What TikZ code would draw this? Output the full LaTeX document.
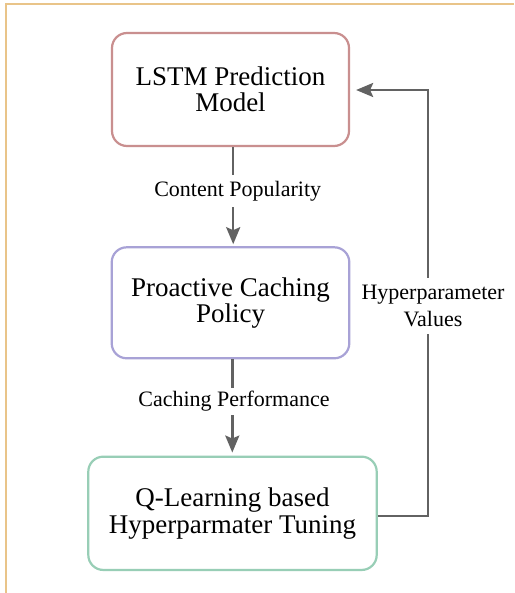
\documentclass[tikz,border=0pt]{standalone}
\usepackage{fontspec}
\setmainfont{Liberation Serif}
\usetikzlibrary{arrows.meta}
\definecolor{framecol}{RGB}{233,196,137}
\definecolor{lstmcol}{RGB}{201,143,143}
\definecolor{cachecol}{RGB}{168,162,214}
\definecolor{qcol}{RGB}{152,206,182}
\definecolor{arrcol}{RGB}{98,98,98}
\tikzset{
  box/.style={draw, line width=2.2pt, rounded corners=15pt, align=center,
    font=\fontsize{27pt}{26.5pt}\selectfont, inner sep=0pt},
  arr/.style={draw=arrcol, line width=2.5pt,
    -{Stealth[length=17pt,width=14pt,inset=3pt]}},
  lbl/.style={fill=white, align=center, inner xsep=2pt,
    font=\fontsize{22pt}{26.5pt}\selectfont}
}
\begin{document}
\begin{tikzpicture}[x=1pt,y=-1pt]
\useasboundingbox (0,0) rectangle (514,593);
\fill[white] (0,0) rectangle (514,593);
% frame
\draw[framecol, line width=2pt] (514,4.3) -- (6,4.3) -- (6,593);
% boxes
\node[box, draw=lstmcol, minimum width=237pt, minimum height=113pt] (lstm) at (230.5,89.5) {LSTM Prediction\\Model};
\node[box, draw=cachecol, minimum width=237.6pt, minimum height=111pt] (cache) at (230.5,302.8) {Proactive Caching\\Policy};
\node[box, draw=qcol, minimum width=288.4pt, minimum height=113.3pt] (ql) at (232.5,513.3) {Q-Learning based\\Hyperparmater Tuning};
% arrows
\draw[arr, shorten >=2pt] ([xshift=2.7pt]lstm.south) -- ([xshift=2.7pt]cache.north);
\node[lbl, inner ysep=6pt] (lpop) at (237.7,191) {Content Popularity};
\draw[arr, shorten >=3pt] ([xshift=1.8pt]cache.south) -- ([xshift=1.8pt]cache.south |- ql.north);
\node[lbl, inner ysep=3.5pt] (lperf) at (234,401.5) {Caching Performance};
\draw[arr, shorten >=6pt] ([yshift=-2.7pt]ql.east) -- ++(50,0) |- ([yshift=-0.5pt]lstm.east);
\node[lbl, inner ysep=7pt] (lhyp) at (433,306) {Hyperparameter\\Values};
\end{tikzpicture}
\end{document}
